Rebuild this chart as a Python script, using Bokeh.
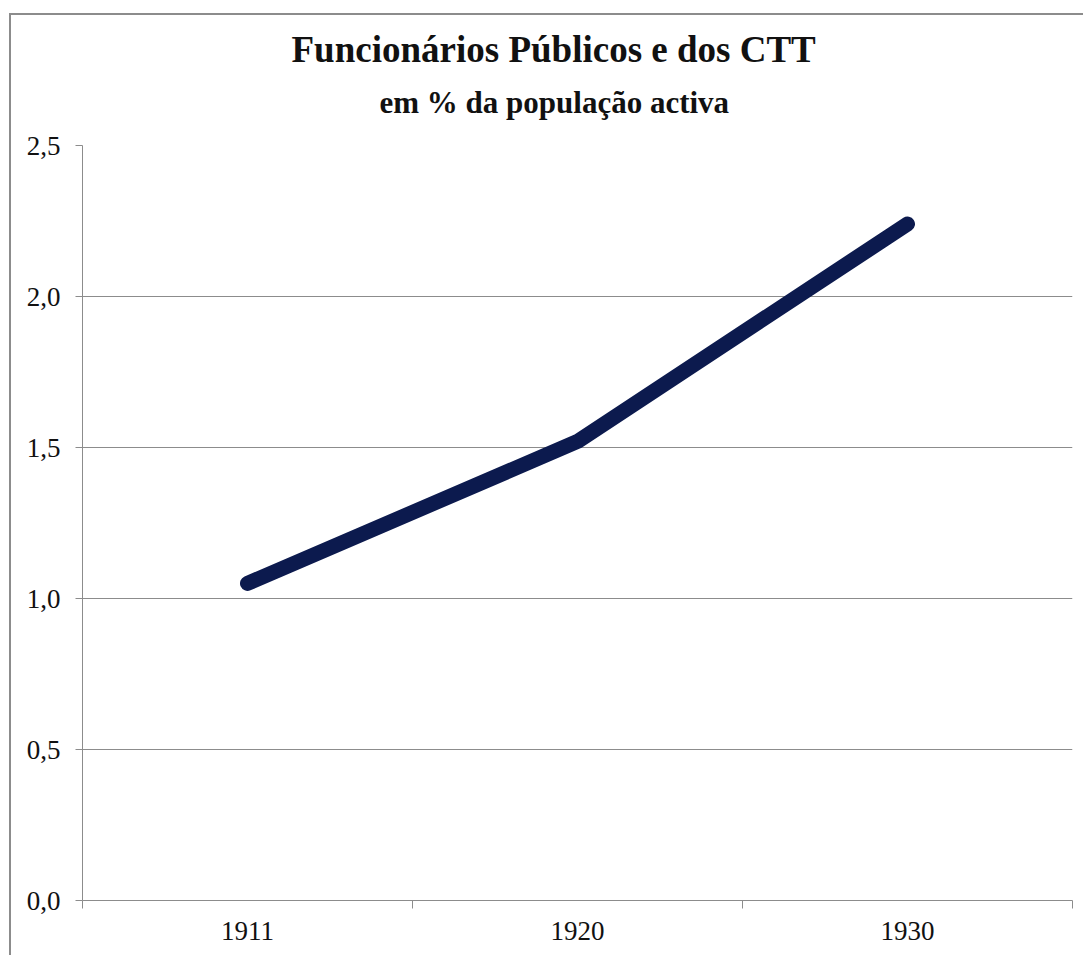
from bokeh.plotting import figure
from bokeh.models import FixedTicker, Title, Range1d
from bokeh.embed import file_html
from bokeh.resources import INLINE

years = ["1911", "1920", "1930"]
values = [1.05, 1.52, 2.24]
y_ticks = [0.0, 0.5, 1.0, 1.5, 2.0, 2.5]
y_tick_labels = ["0,0", "0,5", "1,0", "1,5", "2,0", "2,5"]
title_1 = "Funcionários Públicos e dos CTT"
title_2 = "em % da população activa"

FONT = "Liberation Serif"
GRAY = "#8c8c8c"

xs = [i + 0.5 for i in range(len(years))]

W, H = 1074, 942
p = figure(width=W, height=H, output_backend="svg", toolbar_location=None,
           x_range=Range1d(0, len(years)), y_range=Range1d(0, 2.5),
           min_border_left=71, min_border_right=13, min_border_top=130, min_border_bottom=57)
p.styles = {"margin-left": "9px", "margin-top": "13px",
            "border-left": "2px solid #8c8c8c", "border-top": "2px solid #8c8c8c"}
p.outline_line_color = None
p.background_fill_color = "white"
p.border_fill_color = "white"

p.line(xs, values, line_color="#0c1a4e", line_width=15, line_cap="round", line_join="round")

# x axis
p.xaxis.ticker = FixedTicker(ticks=xs, minor_ticks=list(range(len(years) + 1)))
p.xaxis.major_label_overrides = {x: y for x, y in zip(xs, years)}
p.xaxis.major_tick_out = 0
p.xaxis.major_tick_in = 0
p.xaxis.minor_tick_out = 8
p.xaxis.minor_tick_in = 0
p.xaxis.minor_tick_line_color = GRAY
p.xaxis.minor_tick_line_width = 1
p.xaxis.axis_line_color = GRAY
p.xaxis.major_label_text_font = FONT
p.xaxis.major_label_text_font_size = "27px"
p.xaxis.major_label_text_color = "#111111"
p.xaxis.major_label_standoff = 13
p.xgrid.grid_line_color = None

# y axis
p.yaxis.ticker = FixedTicker(ticks=y_ticks, minor_ticks=[])
p.yaxis.major_label_overrides = {t: l for t, l in zip(y_ticks, y_tick_labels)}
p.yaxis.major_tick_out = 7
p.yaxis.major_tick_in = 0
p.yaxis.major_tick_line_color = GRAY
p.yaxis.axis_line_color = GRAY
p.yaxis.major_label_text_font = FONT
p.yaxis.major_label_text_font_size = "27px"
p.yaxis.major_label_text_color = "#111111"
p.yaxis.major_label_standoff = 15
p.ygrid.ticker = FixedTicker(ticks=y_ticks)
p.ygrid.grid_line_color = GRAY
p.ygrid.grid_line_width = 1

# titles: the one added last sits farthest from the frame
p.add_layout(Title(text=title_2, align="left", offset=297, standoff=52,
                   text_font=FONT, text_font_size="31px", text_font_style="bold",
                   text_color="#111111"), "above")
p.add_layout(Title(text=title_1, align="left", offset=209, standoff=-26,
                   text_font=FONT, text_font_size="37px", text_font_style="bold",
                   text_color="#111111"), "above")

open("out.html", "w").write(file_html(p, INLINE))
